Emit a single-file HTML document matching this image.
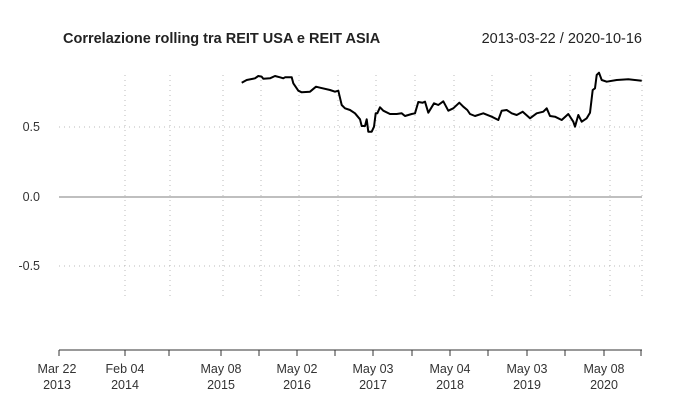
<!DOCTYPE html>
<html><head><meta charset="utf-8"><style>
body{margin:0;background:#fff;}
svg{display:block;font-family:"Liberation Sans",Arial,sans-serif;}
</style></head><body>
<svg width="700" height="400" viewBox="0 0 700 400">
<rect width="700" height="400" fill="#fff"/>
<text x="63" y="43" font-size="14.5" font-weight="bold" fill="#222">Correlazione rolling tra REIT USA e REIT ASIA</text>
<text x="642" y="43" font-size="14.5" text-anchor="end" fill="#222">2013-03-22 / 2020-10-16</text>
<g stroke="#bbb" stroke-width="1" stroke-dasharray="1,4">
<line x1="59" y1="127" x2="642" y2="127"/>
<line x1="59" y1="266" x2="642" y2="266"/>
<line x1="125" y1="75" x2="125" y2="300"/>
<line x1="170" y1="75" x2="170" y2="300"/>
<line x1="223" y1="75" x2="223" y2="300"/>
<line x1="261" y1="75" x2="261" y2="300"/>
<line x1="299" y1="75" x2="299" y2="300"/>
<line x1="338" y1="75" x2="338" y2="300"/>
<line x1="376" y1="75" x2="376" y2="300"/>
<line x1="415" y1="75" x2="415" y2="300"/>
<line x1="454" y1="75" x2="454" y2="300"/>
<line x1="492" y1="75" x2="492" y2="300"/>
<line x1="531" y1="75" x2="531" y2="300"/>
<line x1="570" y1="75" x2="570" y2="300"/>
<line x1="610" y1="75" x2="610" y2="300"/>
<line x1="642" y1="75" x2="642" y2="300"/>
</g>
<line x1="59" y1="197" x2="642" y2="197" stroke="#aaa" stroke-width="1.5"/>
<g font-size="12.5" fill="#333" text-anchor="end">
<text x="40" y="131">0.5</text>
<text x="40" y="201">0.0</text>
<text x="40" y="270">-0.5</text>
</g>
<polyline fill="none" stroke="#000" stroke-width="2" stroke-linejoin="round" points="
241.7,82.7 246.7,80 255,78.3 258.3,76 261.7,76.7 263.3,78.7 270,78.3 275,76 280,77.3 283.3,78.3 285,77.3 291.7,77.3 293.3,83.3 298.3,90.7 301.7,92.3 310,91.7 316,86.7 320,87.7 330,90 335,91.7 338.3,90.7 341.7,105 345,108.3 350,110 355,113.3 360,119.3 361.7,126 365,126 366.7,119.3 368.3,131.7 371.7,131.7 374,126.7 375.7,113.3 377.3,113.3 380,107.3 383.3,110.7 390,114 396.7,114 401.7,113.3 405,116 411.7,114 415,113.3 418.3,102 422.7,102.7 425,101.7 428.3,112.7 434,103.3 438.3,105 443.3,101.3 448.3,110.7 453.3,108.3 459.3,102.7 463.3,106.7 467.3,110 470,114 475,116 483.3,113.3 491.7,116.7 498.3,120 501.7,110.7 506.7,110 511.7,113.3 516.7,115 522.7,111.7 530,118.3 536.7,113.3 543.3,111.7 546.7,108.3 550,116 555,116.7 561.7,120 568.3,114 573.3,121.7 575,126.7 578.3,115 581.7,121.7 586.7,118.3 590,112.7 592.7,90 595,88.3 596.7,75 599,72.7 601.7,80 606.7,81.7 616.7,80 628.3,79.3 641.7,80.7"/>
<line x1="59" y1="350" x2="642" y2="350" stroke="#333" stroke-width="1"/>
<g stroke="#333" stroke-width="1">
<line x1="59" y1="350" x2="59" y2="356"/><line x1="125" y1="350" x2="125" y2="356"/>
<line x1="169" y1="350" x2="169" y2="356"/><line x1="221" y1="350" x2="221" y2="356"/>
<line x1="259" y1="350" x2="259" y2="356"/><line x1="297" y1="350" x2="297" y2="356"/>
<line x1="335" y1="350" x2="335" y2="356"/><line x1="373" y1="350" x2="373" y2="356"/>
<line x1="412" y1="350" x2="412" y2="356"/><line x1="450" y1="350" x2="450" y2="356"/>
<line x1="488" y1="350" x2="488" y2="356"/><line x1="527" y1="350" x2="527" y2="356"/>
<line x1="565" y1="350" x2="565" y2="356"/><line x1="604" y1="350" x2="604" y2="356"/>
<line x1="641" y1="350" x2="641" y2="356"/>
</g>
<g font-size="12.5" fill="#333" text-anchor="middle">
<text x="57" y="373">Mar 22</text><text x="57" y="389">2013</text>
<text x="125" y="373">Feb 04</text><text x="125" y="389">2014</text>
<text x="221" y="373">May 08</text><text x="221" y="389">2015</text>
<text x="297" y="373">May 02</text><text x="297" y="389">2016</text>
<text x="373" y="373">May 03</text><text x="373" y="389">2017</text>
<text x="450" y="373">May 04</text><text x="450" y="389">2018</text>
<text x="527" y="373">May 03</text><text x="527" y="389">2019</text>
<text x="604" y="373">May 08</text><text x="604" y="389">2020</text>
</g>
</svg>
</body></html>
